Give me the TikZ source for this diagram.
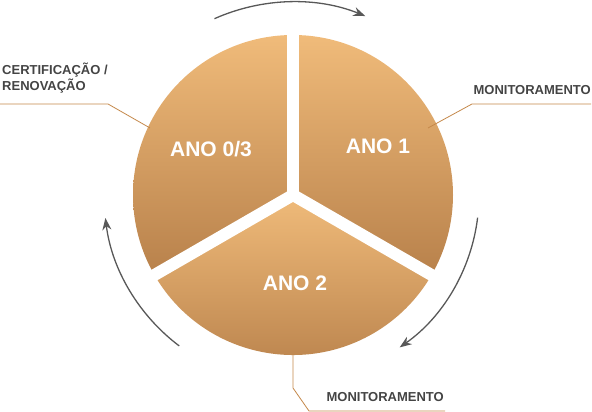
\documentclass[tikz,border=0pt]{standalone}
\usepackage{fontspec}
\setmainfont{Liberation Sans}
\usepackage{xcolor}
\usetikzlibrary{positioning,arrows.meta}
\definecolor{wedgetop}{RGB}{240,187,122}
\definecolor{wedgebot}{RGB}{184,129,75}
\definecolor{leader}{RGB}{196,136,74}
\definecolor{labelgray}{RGB}{68,68,68}
\definecolor{arrowgray}{RGB}{88,88,88}

\begin{document}
\begin{tikzpicture}[x=1pt, y=1pt,
  wedge/.style={top color=wedgetop, bottom color=wedgebot, draw=none},
  cut/.style={white, line width=12pt},
  year/.style={font=\bfseries\fontsize{21}{24}\selectfont, text=white, inner sep=0pt},
  lbl/.style={font=\bfseries\fontsize{13}{16}\selectfont, text=labelgray, inner sep=0pt, align=left},
  lead/.style={leader, line width=0.8pt},
  cyc/.style={-{Stealth[length=12pt, width=9pt]}, arrowgray, line width=1.3pt}]
\useasboundingbox (0,0) rectangle (592,412);
\coordinate (O) at (293,217);
% the three years
\shade[wedge] (O) -- ++(90:160) arc[start angle=90, end angle=-30, radius=160] -- cycle;
\shade[wedge] (O) -- ++(90:160) arc[start angle=90, end angle=210, radius=160] -- cycle;
\shade[wedge] (O) -- ++(210:160) arc[start angle=210, end angle=330, radius=160] -- cycle;
\draw[cut] (O) -- ++(90:170);
\draw[cut] (O) -- ++(210:170);
\draw[cut] (O) -- ++(330:170);
\node[year] (a03) at (211,263) {ANO 0/3};
\node[year] (a1)  at (378,266) {ANO 1};
\node[year] (a2)  at (295,129) {ANO 2};
% labels and leader lines
\node[lbl, anchor=west] (cert) at (2,334) {CERTIFICAÇÃO /\\RENOVAÇÃO};
\node[lbl, anchor=east] (mon1) at (591,322) {MONITORAMENTO};
\node[lbl, anchor=east] (mon2) at (444,15) {MONITORAMENTO};
\coordinate (c0) at (0,308);   \coordinate (c1) at (150,284);
\coordinate (m0) at (591,308); \coordinate (m1) at (428,284);
\coordinate (b0) at (445,1);   \coordinate (b1) at (293,57);
\draw[lead] (c0) -- (108,308) -- (c1);
\draw[lead] (m0) -- (472,308) -- (m1);
\draw[lead] (b0) -- (309,1) -- (293,24) -- (b1);
% cycle arrows
\draw[cyc] (O) ++(114:193) arc[start angle=114, end angle=68, radius=193];
\draw[cyc] (O) ++(-7:186) arc[start angle=-7, end angle=-55, radius=186];
\draw[cyc] (O) ++(233:189) arc[start angle=233, end angle=187, radius=189];
\end{tikzpicture}
\end{document}
